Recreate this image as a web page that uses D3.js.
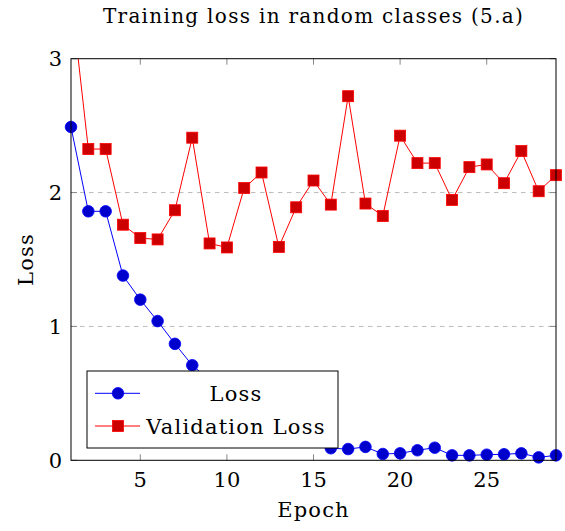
<!DOCTYPE html>
<html><head><meta charset="utf-8">
<script src="https://cdn.jsdelivr.net/npm/d3@7"></script>
<style>
body{margin:0;background:#fff;}
text{font-family:"DejaVu Serif",serif;fill:#000;}
</style></head>
<body>
<svg id="c" width="565" height="531"></svg>
<script>
const epochs = d3.range(1, 30);
const lossValues = [2.49,1.86,1.86,1.38,1.20,1.04,0.87,0.71,0.60,0.47,0.37,0.29,0.22,0.18,0.15,0.09,0.084,0.10,0.047,0.052,0.075,0.094,0.037,0.037,0.042,0.045,0.052,0.022,0.037];
const valLossValues = [3.48,2.325,2.325,1.76,1.66,1.65,1.868,2.41,1.62,1.59,2.034,2.15,1.594,1.89,2.09,1.91,2.72,1.918,1.825,2.425,2.22,2.22,1.945,2.19,2.21,2.07,2.31,2.01,2.13];
const xTicks = [5,10,15,20,25];
const yTicks = [0,1,2,3];
const seriesNames = ["Loss","Validation Loss"];
const title = "Training loss in random classes (5.a)";

const svg = d3.select("#c");
const L=71, R=556, T=58.7, B=460.3;
const x = d3.scaleLinear().domain([1,29]).range([L,R]);
const y = d3.scaleLinear().domain([0,3]).range([B,T]);

svg.append("defs").append("clipPath").attr("id","clip")
  .append("rect").attr("x",L).attr("y",T).attr("width",R-L).attr("height",B-T);

svg.append("g").selectAll("line").data([1,2]).join("line")
  .attr("x1",L).attr("x2",R).attr("y1",d=>y(d)).attr("y2",d=>y(d))
  .attr("stroke","#bbb").attr("stroke-width",1).attr("stroke-dasharray","4.5,4.5");

const tl=6;
const tg = svg.append("g").attr("stroke","#888").attr("stroke-width",1);
xTicks.forEach(t=>{
  tg.append("line").attr("x1",x(t)).attr("x2",x(t)).attr("y1",B).attr("y2",B-tl);
  tg.append("line").attr("x1",x(t)).attr("x2",x(t)).attr("y1",T).attr("y2",T+tl);
});
yTicks.forEach(t=>{
  tg.append("line").attr("y1",y(t)).attr("y2",y(t)).attr("x1",L).attr("x2",L+tl);
  tg.append("line").attr("y1",y(t)).attr("y2",y(t)).attr("x1",R).attr("x2",R-tl);
});

const lineGen = d3.line().x((d,i)=>x(epochs[i])).y(d=>y(d));
const plot = svg.append("g").attr("clip-path","url(#clip)");
plot.append("path").datum(lossValues).attr("d",lineGen).attr("fill","none").attr("stroke","#0000ff").attr("stroke-width",1);
plot.append("path").datum(valLossValues).attr("d",lineGen).attr("fill","none").attr("stroke","#ff0000").attr("stroke-width",1);
const r=5.8, s=11;
svg.append("g").selectAll("circle").data(lossValues).join("circle")
  .attr("cx",(d,i)=>x(epochs[i])).attr("cy",d=>y(d)).attr("r",r)
  .attr("fill","#0000cc").attr("stroke","#0000ff").attr("stroke-width",0.8);
svg.append("g").selectAll("rect")
  .data(valLossValues.map((v,i)=>({v,i})).filter(d=>d.v<=3.05)).join("rect")
  .attr("x",d=>x(epochs[d.i])-s/2).attr("y",d=>y(d.v)-s/2).attr("width",s).attr("height",s)
  .attr("fill","#cc0000").attr("stroke","#ff0000").attr("stroke-width",0.8);

svg.append("rect").attr("x",L).attr("y",T).attr("width",R-L).attr("height",B-T)
  .attr("fill","none").attr("stroke","#000").attr("stroke-width",1);

const fs=21, ls=1.2;
svg.append("g").selectAll("text").data(xTicks).join("text")
  .attr("x",d=>x(d)).attr("y",487).attr("text-anchor","middle").attr("font-size",fs).text(d=>d);
svg.append("g").selectAll("text").data(yTicks).join("text")
  .attr("x",62).attr("y",d=>y(d)+7.5).attr("text-anchor","end").attr("font-size",fs).text(d=>d);

svg.append("text").attr("x",(L+R)/2).attr("y",517).attr("text-anchor","middle").attr("font-size",fs).attr("letter-spacing",ls).text("Epoch");
svg.append("text").attr("transform",`translate(33,${(T+B)/2}) rotate(-90)`).attr("text-anchor","middle").attr("font-size",fs).attr("letter-spacing",ls).text("Loss");
svg.append("text").attr("x",(L+R)/2).attr("y",23).attr("text-anchor","middle").attr("font-size",20).attr("letter-spacing",1.3).text(title);

const lg = svg.append("g");
lg.append("rect").attr("x",87).attr("y",371).attr("width",251).attr("height",77).attr("fill","#fff").attr("stroke","#000").attr("stroke-width",1);
const rows=[393.3,426];
lg.append("line").attr("x1",95).attr("x2",140).attr("y1",rows[0]).attr("y2",rows[0]).attr("stroke","#0000ff");
lg.append("circle").attr("cx",118).attr("cy",rows[0]).attr("r",r).attr("fill","#0000cc").attr("stroke","#0000ff").attr("stroke-width",0.8);
lg.append("line").attr("x1",95).attr("x2",140).attr("y1",rows[1]).attr("y2",rows[1]).attr("stroke","#ff0000");
lg.append("rect").attr("x",118-s/2).attr("y",rows[1]-s/2).attr("width",s).attr("height",s).attr("fill","#cc0000").attr("stroke","#ff0000").attr("stroke-width",0.8);
lg.selectAll("text.l").data(seriesNames).join("text").attr("class","l")
  .attr("x",236).attr("y",(d,i)=>rows[i]+7.5).attr("text-anchor","middle").attr("font-size",fs).attr("letter-spacing",ls).text(d=>d);
</script>
</body></html>
